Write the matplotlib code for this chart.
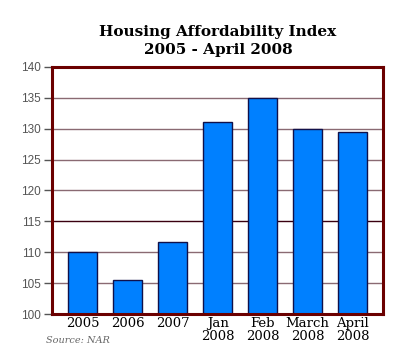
import matplotlib.pyplot as plt
import numpy as np

categories = ["2005", "2006", "2007", "Jan\n2008", "Feb\n2008", "March\n2008", "April\n2008"]
values = [110.0, 105.6, 111.6, 131.1, 135.0, 130.0, 129.4]
yticks = [100, 105, 110, 115, 120, 125, 130, 135, 140]

fig = plt.figure(figsize=(4.0, 3.57), dpi=100)
ax = fig.add_axes([0.13, 0.12, 0.828, 0.693])

x = np.arange(len(categories))
ax.bar(x, values, width=0.63, color="#0080ff", edgecolor="#10104a", linewidth=1.0, zorder=3)

ax.set_ylim(100, 140)
ax.set_xlim(-0.68, len(categories) - 1 + 0.68)
ax.set_yticks(yticks)
ax.set_yticklabels([str(t) for t in yticks], fontsize=8.5, color="#555555", family="Liberation Sans")
ax.set_xticks(x)
ax.set_xticklabels(categories, fontsize=9.5, family="DejaVu Serif", linespacing=1.05)

for t in yticks[1:-1]:
    c = "#3a0010" if t == 115 else "#8a6a72"
    ax.axhline(t, color=c, linewidth=1.0, zorder=1)

for s in ax.spines.values():
    s.set_color("#6b0000")
    s.set_linewidth(2.2)
    s.set_zorder(4)

ax.tick_params(axis="y", length=6, width=1, color="#555555", pad=2)
ax.tick_params(axis="x", length=0, pad=2)

fig.text(0.545, 0.885, "Housing Affordability Index\n2005 - April 2008", ha="center", va="center",
         fontsize=11, fontweight="bold", family="DejaVu Serif", linespacing=1.3)
fig.text(0.115, 0.04, "Source: NAR", fontsize=7, style="italic", color="#666666", family="DejaVu Serif")

fig.savefig("out.png", dpi=100)
